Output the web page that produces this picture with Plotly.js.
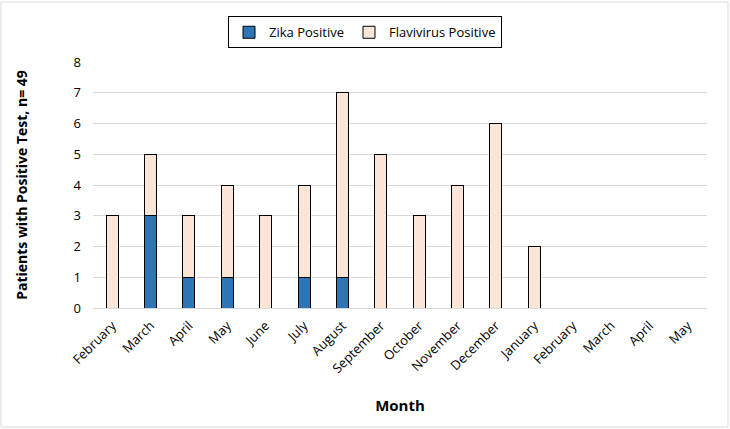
<!DOCTYPE html>
<html>
<head>
<meta charset="utf-8">
<script src="https://cdn.plot.ly/plotly-3.0.1.min.js"></script>
<style>
html,body{margin:0;padding:0;background:#fff;}
#chart{width:730px;height:429px;}
</style>
</head>
<body>
<div id="chart"></div>
<script>
var months = ["February","March","April","May","June","July","August","September","October","November","December","January","February","March","April","May"];
var zikaPositive = [0,3,1,1,0,1,1,0,0,0,0,0,0,0,0,0];
var flavivirusPositive = [3,2,2,3,3,3,6,5,3,4,6,2,0,0,0,0];

var idx = months.map(function(_, i){ return i; });

var traces = [
  {
    type: 'bar', name: 'Zika Positive', x: idx, y: zikaPositive,
    marker: {color: '#2E75B6', line: {color: '#000000', width: 1}},
    width: 0.31
  },
  {
    type: 'bar', name: 'Flavivirus Positive', x: idx, y: flavivirusPositive,
    marker: {color: '#FBE5D6', line: {color: '#000000', width: 1}},
    width: 0.31
  }
];

var font = "Open Sans, Liberation Sans, sans-serif";
var layout = {
  width: 730, height: 429,
  barmode: 'stack',
  paper_bgcolor: '#ffffff', plot_bgcolor: '#ffffff',
  margin: {l: 93, r: 23, t: 62, b: 121},
  font: {family: font, size: 13, color: '#000000'},
  showlegend: true,
  legend: {
    orientation: 'h', xref: 'container', yref: 'container',
    x: 0.5, xanchor: 'center', y: 0.962, yanchor: 'top',
    bordercolor: '#000000', borderwidth: 1, bgcolor: '#ffffff',
    font: {family: font, size: 13}, traceorder: 'normal', itemwidth: 30
  },
  xaxis: {
    range: [-0.5, 15.5], tickmode: 'array', tickvals: idx, ticktext: months,
    tickangle: -45, showgrid: false, zeroline: false,
    showline: true, linecolor: '#d9d9d9', linewidth: 1, ticks: '',
    ticklabelstandoff: 4,
    tickfont: {family: font, size: 13},
    title: {text: 'Month', font: {family: font, size: 15, weight: 'bold'}, standoff: 24}
  },
  yaxis: {
    range: [0, 8], dtick: 1, showgrid: true, gridcolor: '#d9d9d9', gridwidth: 1,
    zeroline: false, showline: false, ticks: '',
    ticklabelstandoff: 11,
    tickfont: {family: font, size: 13},
    title: {text: 'Patients with Positive Test, n= 49', font: {family: font, size: 14, weight: 'bold'}, standoff: 42}
  },
  shapes: [{
    type: 'rect', xref: 'paper', yref: 'paper', layer: 'below',
    x0: (1-93)/614, x1: (728-93)/614, y0: (308-427)/246, y1: (308-2)/246,
    line: {color: '#d9d9d9', width: 1}, fillcolor: 'rgba(0,0,0,0)'
  }]
};

Plotly.newPlot('chart', traces, layout, {displayModeBar: false, staticPlot: true});
</script>
</body>
</html>
